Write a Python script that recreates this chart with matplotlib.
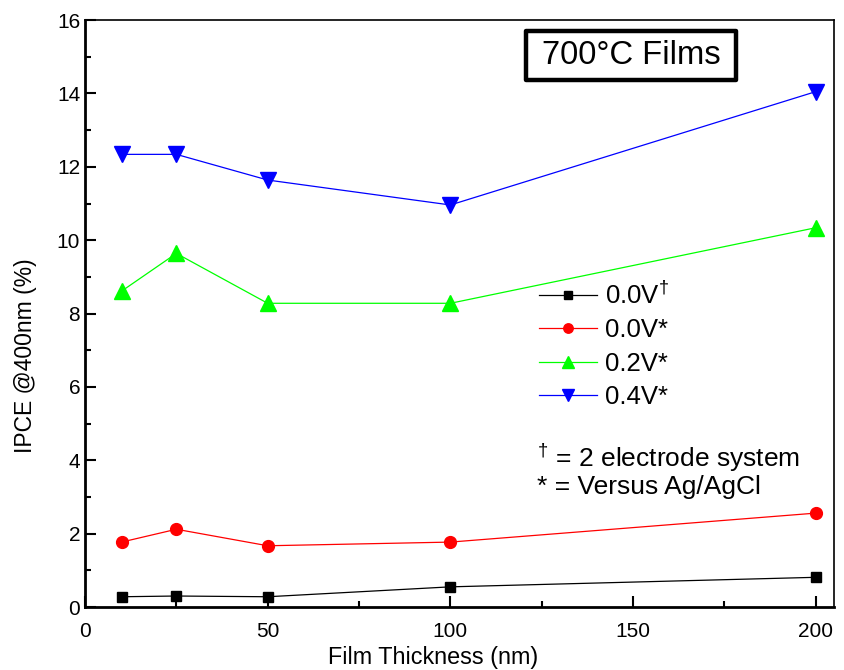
import numpy as np
import matplotlib
matplotlib.use('Agg')
import matplotlib.pyplot as plt
from matplotlib.ticker import MultipleLocator
from matplotlib.patches import Rectangle

# Data
thickness = [10, 25, 50, 100, 200]
ipce_00v_2e = [0.28, 0.30, 0.28, 0.55, 0.81]
ipce_00v = [1.77, 2.12, 1.67, 1.77, 2.56]
ipce_02v = [8.61, 9.64, 8.28, 8.28, 10.34]
ipce_04v = [12.34, 12.34, 11.64, 10.96, 14.05]
labels = [r'0.0V$^{\dagger}$', '0.0V*', '0.2V*', '0.4V*']

FONT = 'Liberation Sans'
plt.rcParams['font.family'] = FONT
plt.rcParams['mathtext.fontset'] = 'custom'
plt.rcParams['mathtext.rm'] = FONT

fig = plt.figure(figsize=(8.44, 6.70), dpi=100)
ax = fig.add_axes([0.1007, 0.094, 0.8875, 0.876])

series = [
	(ipce_00v_2e, 'black', 's', 7.5),
	(ipce_00v, 'red', 'o', 8.5),
	(ipce_02v, '#00ff00', '^', 11),
	(ipce_04v, 'blue', 'v', 11),
]
for (vals, col, mk, ms), lab in zip(series, labels):
	ax.plot(thickness, vals, color=col, lw=0.9, marker=mk, ms=ms, mec=col, mfc=col, label=lab)

ax.set_xlim(0, 205)
ax.set_ylim(0, 16)
ax.xaxis.set_major_locator(MultipleLocator(50))
ax.xaxis.set_minor_locator(MultipleLocator(25))
ax.yaxis.set_major_locator(MultipleLocator(2))
ax.yaxis.set_minor_locator(MultipleLocator(1))
ax.tick_params(which='both', direction='in', top=False, right=False, labelsize=15, width=1.5)
ax.tick_params(which='major', length=8)
ax.tick_params(which='minor', length=4.5)
ax.tick_params(axis='x', pad=11)
for s in ['left', 'bottom']:
	ax.spines[s].set_linewidth(2)
for s in ['top', 'right']:
	ax.spines[s].set_linewidth(1.2)

ax.set_xlabel('Film Thickness (nm)', fontsize=16.8)
ax.set_ylabel('IPCE @400nm (%)', fontsize=16.5)
ax.xaxis.set_label_coords(0.465, -0.066)
ax.yaxis.set_label_coords(-0.064, 0.428)

leg = ax.legend(loc='upper left', bbox_to_anchor=(0.575, 0.595), frameon=False, fontsize=18.5,
	handlelength=2.26, handletextpad=0.31, labelspacing=0.37, markerscale=0.8)

ax.text(0.603, 0.255, r'$^{\dagger}$ = 2 electrode system', transform=ax.transAxes, fontsize=19, va='center')
ax.text(0.603, 0.205, '* = Versus Ag/AgCl', transform=ax.transAxes, fontsize=19, va='center')

# title box
ax.add_patch(Rectangle((0.589, 0.898), 0.28, 0.083, transform=ax.transAxes, fc='white', ec='black',
	lw=3.2, joinstyle='round', zorder=5))
ax.text(0.729, 0.9395, '700°C Films', transform=ax.transAxes, fontsize=23.6, ha='center', va='center', zorder=6)

fig.savefig('out.png', dpi=100)
